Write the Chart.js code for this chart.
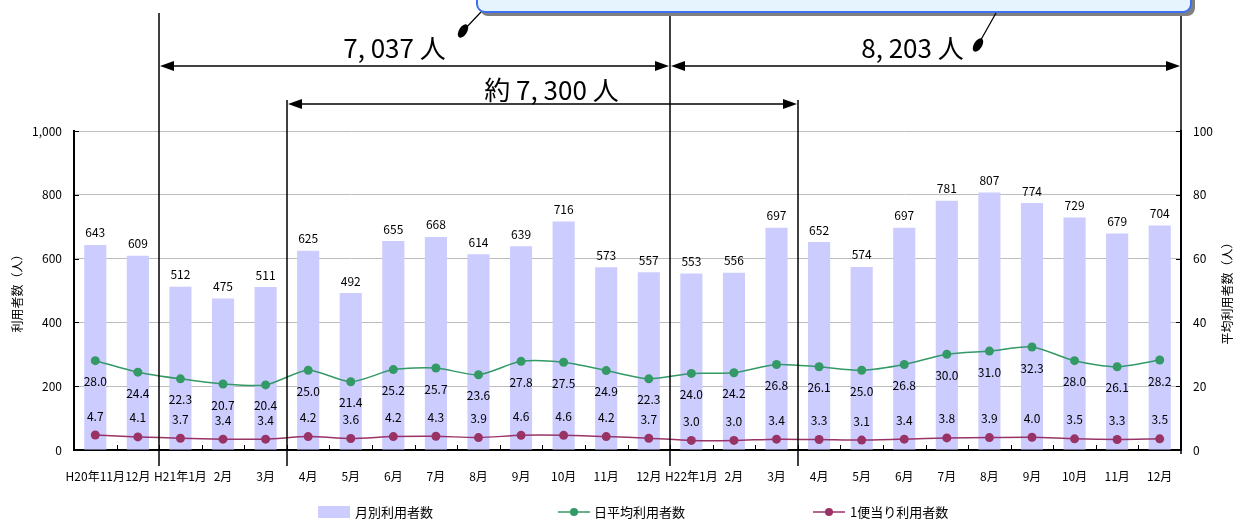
<!DOCTYPE html>
<html lang="ja">
<head>
<meta charset="utf-8">
<script src="https://cdn.jsdelivr.net/npm/chart.js@4.4.0/dist/chart.umd.min.js"></script>
<style>
  html, body { margin: 0; padding: 0; background: #fff; }
  #wrap { position: relative; width: 1238px; height: 519px; }
</style>
</head>
<body>
<div id="wrap"><canvas id="chart"></canvas></div>
<script>
// 月
const months = ['H20年11月', '12月', 'H21年1月', '2月', '3月', '4月', '5月', '6月', '7月', '8月', '9月', '10月', '11月', '12月',
  'H22年1月', '2月', '3月', '4月', '5月', '6月', '7月', '8月', '9月', '10月', '11月', '12月'];
// 月別利用者数（人）
const monthlyUsers = [643, 609, 512, 475, 511, 625, 492, 655, 668, 614, 639, 716, 573, 557,
  553, 556, 697, 652, 574, 697, 781, 807, 774, 729, 679, 704];
// 日平均利用者数（人）
const dailyAvg = [28.0, 24.4, 22.3, 20.7, 20.4, 25.0, 21.4, 25.2, 25.7, 23.6, 27.8, 27.5, 24.9, 22.3,
  24.0, 24.2, 26.8, 26.1, 25.0, 26.8, 30.0, 31.0, 32.3, 28.0, 26.1, 28.2];
// 1便当り利用者数（人）
const perTrip = [4.7, 4.1, 3.7, 3.4, 3.4, 4.2, 3.6, 4.2, 4.3, 3.9, 4.6, 4.6, 4.2, 3.7,
  3.0, 3.0, 3.4, 3.3, 3.1, 3.4, 3.8, 3.9, 4.0, 3.5, 3.3, 3.5];
const seriesNames = ['月別利用者数', '日平均利用者数', '1便当り利用者数'];
const axisTitles = ['利用者数（人）', '平均利用者数（人）'];

// 期間の矢印（カテゴリ境界の番号）
const spanFrom = [2, 5, 14];
const spanTo = [14, 17, 26];
const spanLabels = ['7, 037 人', '約 7, 300 人', '8, 203 人'];

const FONT = '"Noto Sans CJK JP", "Noto Sans", sans-serif';
const BAR = '#ccccff';
const GREEN = '#339966';
const PLUM = '#993366';

Chart.defaults.font.family = FONT;
Chart.defaults.font.size = 12;
Chart.defaults.color = '#000';

/**
 * カテゴリ境界のx座標
 */
function boundary(xs, k) {
  if (k <= 0) return xs.left;
  if (k >= months.length) return xs.right;
  return (xs.getPixelForValue(k - 1) + xs.getPixelForValue(k)) / 2;
}

function line(ctx, x1, y1, x2, y2) {
  ctx.beginPath();
  ctx.moveTo(x1, y1);
  ctx.lineTo(x2, y2);
  ctx.stroke();
}

function arrowHead(ctx, x, y, dir) {
  ctx.beginPath();
  ctx.moveTo(x, y);
  ctx.lineTo(x - dir * 14, y - 5);
  ctx.lineTo(x - dir * 14, y + 5);
  ctx.closePath();
  ctx.fill();
}

// 軸目盛り・ラベル・注記を描く
const overlay = {
  id: 'overlay',
  afterDatasetsDraw(chart) {
    const ctx = chart.ctx;
    const xs = chart.scales.x, ys = chart.scales.y, y1 = chart.scales.y1;
    const area = chart.chartArea;
    ctx.save();

    // 内向きの目盛り
    ctx.strokeStyle = '#000';
    ctx.lineWidth = 1;
    for (let k = 1; k < months.length; k++) {
      const x = Math.round(boundary(xs, k)) + 0.5;
      line(ctx, x, area.bottom, x, area.bottom - 5);
    }
    ys.ticks.forEach(t => {
      const y = Math.round(ys.getPixelForValue(t.value)) + 0.5;
      line(ctx, area.left, y, area.left + 5, y);
    });
    y1.ticks.forEach(t => {
      const y = Math.round(y1.getPixelForValue(t.value)) + 0.5;
      line(ctx, area.right, y, area.right - 5, y);
    });

    // データラベル（0:日平均, 1:1便当り, 2:棒）
    ctx.fillStyle = '#000';
    ctx.font = '12px ' + FONT;
    ctx.textAlign = 'center';
    ctx.textBaseline = 'middle';
    chart.getDatasetMeta(2).data.forEach((bar, i) => {
      ctx.fillText(String(monthlyUsers[i]), bar.x, bar.y - 12);
    });
    chart.getDatasetMeta(0).data.forEach((pt, i) => {
      ctx.fillText(dailyAvg[i].toFixed(1), pt.x, pt.y + 21);
    });
    chart.getDatasetMeta(1).data.forEach((pt, i) => {
      ctx.fillText(perTrip[i].toFixed(1), pt.x, pt.y - 19);
    });

    // 期間の縦線
    ctx.lineWidth = 1.5;
    const tops = { 2: 13, 5: 100, 14: 0, 17: 100 };
    Object.keys(tops).forEach(k => {
      const x = Math.round(boundary(xs, +k));
      line(ctx, x, tops[k], x, area.bottom + 16);
    });
    line(ctx, area.right, 15, area.right, area.bottom + 4);

    // 矢印
    const rowY = [66, 104, 66];
    const textY = [48, 90, 48];
    const textDx = [-20, 9, -13];
    ctx.lineWidth = 1.5;
    ctx.font = '26px ' + FONT;
    spanFrom.forEach((from, i) => {
      const xa = Math.round(boundary(xs, from)) + 1;
      const xb = Math.round(boundary(xs, spanTo[i])) - 1;
      line(ctx, xa + 4, rowY[i], xb - 4, rowY[i]);
      arrowHead(ctx, xa, rowY[i], -1);
      arrowHead(ctx, xb, rowY[i], 1);
      ctx.fillText(spanLabels[i], (xa + xb) / 2 + textDx[i], textY[i]);
    });

    // 吹き出し
    ctx.fillStyle = '#808080';
    ctx.beginPath();
    ctx.roundRect(480, -20, 715, 36, 8);
    ctx.fill();
    ctx.fillStyle = '#e6f4fd';
    ctx.strokeStyle = '#3d6ff0';
    ctx.lineWidth = 2;
    ctx.beginPath();
    ctx.roundRect(477, -22, 714, 34, 8);
    ctx.fill();
    ctx.stroke();

    ctx.strokeStyle = '#000';
    ctx.fillStyle = '#000';
    ctx.lineWidth = 1.2;
    [[463, 31, 481, 12], [978, 45, 996, 13]].forEach(p => {
      line(ctx, p[0], p[1], p[2], p[3]);
      ctx.beginPath();
      ctx.ellipse(p[0], p[1], 7.5, 4, -Math.PI * 0.32, 0, Math.PI * 2);
      ctx.fill();
    });

    // 軸タイトル
    ctx.font = '12px ' + FONT;
    const midY = (area.top + area.bottom) / 2;
    [[17, axisTitles[0]], [1227, axisTitles[1]]].forEach(a => {
      ctx.save();
      ctx.translate(a[0], midY);
      ctx.rotate(-Math.PI / 2);
      ctx.fillText(a[1], 0, 0);
      ctx.restore();
    });

    // 凡例
    const ly = 512;
    ctx.textAlign = 'left';
    ctx.font = '13px ' + FONT;
    ctx.fillStyle = BAR;
    ctx.fillRect(318, ly - 6, 32, 12);
    ctx.fillStyle = '#000';
    ctx.fillText(seriesNames[0], 355, ly);
    [[558, GREEN, seriesNames[1], 594], [813, PLUM, seriesNames[2], 850]].forEach(l => {
      ctx.strokeStyle = l[1];
      ctx.fillStyle = l[1];
      ctx.lineWidth = 1.5;
      line(ctx, l[0], ly, l[0] + 32, ly);
      ctx.beginPath();
      ctx.arc(l[0] + 16, ly, 4, 0, Math.PI * 2);
      ctx.fill();
      ctx.fillStyle = '#000';
      ctx.fillText(l[2], l[3], ly);
    });

    ctx.restore();
  }
};

new Chart(document.getElementById('chart'), {
  type: 'bar',
  data: {
    labels: months,
    datasets: [
      {
        type: 'line',
        label: seriesNames[1],
        data: dailyAvg,
        yAxisID: 'y1',
        borderColor: GREEN,
        backgroundColor: GREEN,
        borderWidth: 1.5,
        pointRadius: 4.5,
        pointBorderWidth: 0,
        tension: 0.25,
        order: 1
      },
      {
        type: 'line',
        label: seriesNames[2],
        data: perTrip,
        yAxisID: 'y1',
        borderColor: PLUM,
        backgroundColor: PLUM,
        borderWidth: 1.5,
        pointRadius: 4.5,
        pointBorderWidth: 0,
        tension: 0.25,
        order: 2
      },
      {
        label: seriesNames[0],
        data: monthlyUsers,
        yAxisID: 'y',
        backgroundColor: BAR,
        barPercentage: 0.52,
        categoryPercentage: 1,
        order: 3
      }
    ]
  },
  options: {
    responsive: true,
    maintainAspectRatio: false,
    animation: false,
    layout: { padding: { top: 131, left: 0, right: 0, bottom: 0 } },
    plugins: {
      legend: { display: false },
      tooltip: { enabled: false }
    },
    scales: {
      x: {
        grid: { display: false },
        border: { color: '#000', width: 2 },
        ticks: { autoSkip: false, maxRotation: 0, minRotation: 0, padding: 11, font: { size: 12 } },
        afterFit: s => { s.height = 69; }
      },
      y: {
        position: 'left',
        min: 0, max: 1000,
        ticks: { stepSize: 200, padding: 12, font: { size: 12 } },
        grid: { color: '#bdbdbd', drawTicks: false },
        border: { color: '#000', width: 2 },
        afterFit: s => { s.width = 74; }
      },
      y1: {
        position: 'right',
        min: 0, max: 100,
        ticks: { stepSize: 20, padding: 12, font: { size: 12 } },
        grid: { drawOnChartArea: false, drawTicks: false },
        border: { color: '#000', width: 2 },
        afterFit: s => { s.width = 57; }
      }
    }
  },
  plugins: [overlay]
});
</script>
</body>
</html>
